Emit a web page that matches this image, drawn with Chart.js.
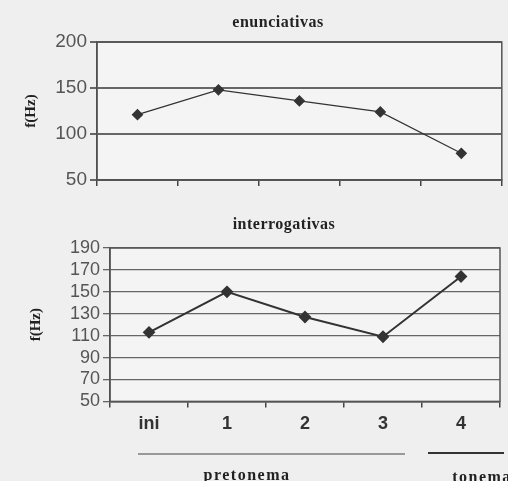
<!DOCTYPE html>
<html>
<head>
<meta charset="utf-8">
<script src="https://cdn.jsdelivr.net/npm/chart.js@4.4.0/dist/chart.umd.min.js"></script>
<style>
  body { margin: 0; background: #efefef; }
  #wrap { position: relative; width: 508px; height: 481px; overflow: hidden; }
  canvas { position: absolute; left: 0; }
  #c1 { top: 0; }
  #c2 { top: 200px; }
  .ttl { position: absolute; font: bold 16px "Liberation Serif", serif; color: #222; transform: translateX(-50%); white-space: nowrap; letter-spacing: 0.5px; }
  .bar { position: absolute; height: 2px; }
</style>
</head>
<body>
<div id="wrap">
  <canvas id="c1" width="508" height="200"></canvas>
  <canvas id="c2" width="508" height="281"></canvas>
  <div class="ttl" style="left:278px; top:13px;">enunciativas</div>
  <div class="ttl" style="left:284px; top:215px;">interrogativas</div>
  <div class="bar" style="left:138px; top:453px; width:267px; background:#999;"></div>
  <div class="bar" style="left:428px; top:452px; width:76px; background:#333;"></div>
  <div class="ttl" style="left:247px; top:466px; letter-spacing:1.5px;">pretonema</div>
  <div class="ttl" style="left:482px; top:468px; letter-spacing:1.5px;">tonema</div>
</div>
<script>
// --- DONNÉES ---
const categories = ['ini', '1', '2', '3', '4'];
const enunciativas = [121, 148, 136, 124, 79];
const interrogativas = [113, 150, 127, 109, 164];
const ticksEnun = [50, 100, 150, 200];
const ticksInter = [50, 70, 90, 110, 130, 150, 170, 190];

// cadre autour de la zone de tracé
const frame = {
  id: 'frame',
  beforeDraw(chart) {
    const a = chart.chartArea, ctx = chart.ctx;
    ctx.save();
    ctx.fillStyle = '#f4f4f4';
    ctx.fillRect(a.left, a.top, a.right - a.left, a.bottom - a.top);
    ctx.restore();
  },
  afterDraw(chart) {
    const a = chart.chartArea, ctx = chart.ctx;
    ctx.save();
    ctx.strokeStyle = '#555';
    ctx.lineWidth = 1.5;
    ctx.strokeRect(a.left, a.top, a.right - a.left, a.bottom - a.top);
    ctx.restore();
  }
};

function makeChart(id, data, tickList, opts) {
  return new Chart(document.getElementById(id), {
    type: 'line',
    data: {
      labels: categories,
      datasets: [{
        data: data,
        borderColor: '#333',
        borderWidth: opts.lineWidth,
        pointStyle: 'rectRot',
        pointRadius: opts.pointRadius,
        pointBackgroundColor: '#333',
        pointBorderColor: '#333',
        tension: 0
      }]
    },
    options: {
      responsive: false,
      animation: false,
      layout: { padding: opts.padding },
      plugins: { legend: { display: false }, tooltip: { enabled: false } },
      scales: {
        x: {
          offset: true,
          grid: { display: true, offset: true, drawOnChartArea: false, tickLength: 6, color: '#444', lineWidth: 1.5 },
          border: { color: '#444', width: 1.5 },
          ticks: {
            display: opts.showX,
            color: '#333',
            padding: 6,
            font: { family: 'Liberation Sans', size: 18, weight: 'bold' }
          }
        },
        y: {
          min: tickList[0],
          max: tickList[tickList.length - 1],
          afterBuildTicks: (s) => { s.ticks = tickList.map(v => ({ value: v })); },
          afterFit: (s) => { s.width = opts.yWidth; },
          grid: { color: '#666', lineWidth: opts.gridWidth, tickLength: 7 },
          border: { color: '#444', width: 1.5 },
          title: {
            display: true,
            text: 'f(Hz)',
            color: '#222',
            padding: { top: opts.titlePad, bottom: 0 },
            font: { family: 'Liberation Serif', size: 15, weight: 'bold' }
          },
          ticks: {
            autoSkip: false,
            color: '#555',
            padding: 3,
            font: { family: 'Liberation Sans', size: opts.tickSize }
          }
        }
      }
    },
    plugins: [frame]
  });
}

makeChart('c1', enunciativas, ticksEnun, {
  lineWidth: 1.2, pointRadius: 5, gridWidth: 2, showX: false, titlePad: 22,
  padding: { top: 42, right: 5, left: 0, bottom: 14 }, yWidth: 97, tickSize: 19
});

makeChart('c2', interrogativas, ticksInter, {
  lineWidth: 2, pointRadius: 5, gridWidth: 1.3, showX: true, titlePad: 27,
  padding: { top: 48, right: 8, left: 0, bottom: 40 }, yWidth: 110, tickSize: 18
});
</script>
</body>
</html>
